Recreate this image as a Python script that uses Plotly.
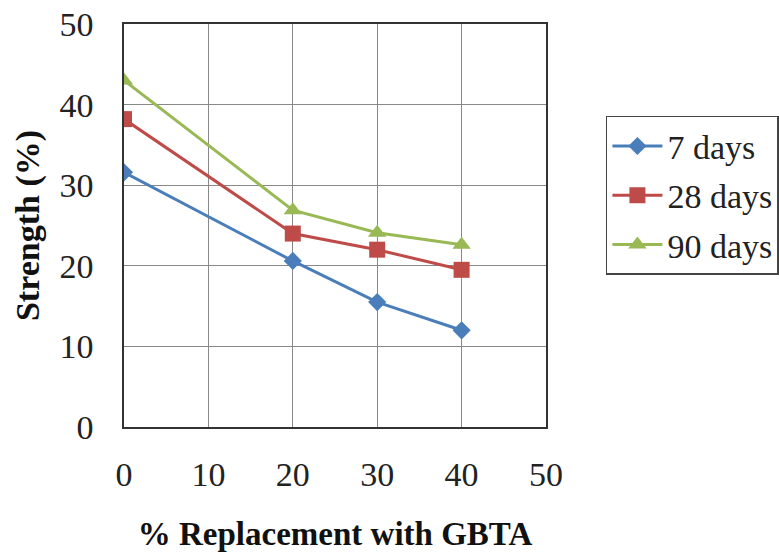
import plotly.graph_objects as go

replacement = [0, 20, 30, 40]
days7 = [31.6, 20.6, 15.5, 12.0]
days28 = [38.2, 24.0, 22.0, 19.5]
days90 = [43.0, 26.9, 24.1, 22.6]
series_names = ["7 days", "28 days", "90 days"]

fig = go.Figure()
styles = [
    ("#4a7ebb", "diamond", 14),
    ("#be4b48", "square", 16),
    ("#98b954", "triangle-up", 16),
]
for name, vals, (col, sym, sz) in zip(series_names, [days7, days28, days90], styles):
    fig.add_trace(go.Scatter(
        x=replacement, y=vals, name=name, mode="lines+markers",
        legendgroup=name,
        line=dict(color=col, width=3),
        marker=dict(color=col, symbol=sym, size=sz),
    ))

font = "Liberation Serif, Times New Roman, serif"
fig.update_layout(
    width=779, height=557,
    margin=dict(l=124, r=233, t=24, b=130, autoexpand=False),
    paper_bgcolor="white", plot_bgcolor="white",
    font=dict(family=font, size=34, color="#222"),
    showlegend=True,
    legend=dict(
        x=1.142, y=0.772, xanchor="left", yanchor="top",
        bordercolor="#444", borderwidth=1.5,
        font=dict(family=font, size=34, color="#222"),
        tracegroupgap=2, itemwidth=50,
    ),
    xaxis=dict(
        range=[0, 50], tickvals=[0, 10, 20, 30, 40, 50],
        showgrid=True, gridcolor="#888", gridwidth=1,
        showline=True, linecolor="#333", linewidth=1.5, mirror=True,
        zeroline=False, ticks="", ticklabelstandoff=16, automargin=False,
        tickfont=dict(family=font, size=34, color="#222"),
        title=dict(text="<b>% Replacement with GBTA</b>", font=dict(family=font, size=33, color="#111"), standoff=30),
    ),
    yaxis=dict(
        range=[0, 50], tickvals=[0, 10, 20, 30, 40, 50],
        showgrid=True, gridcolor="#888", gridwidth=1,
        showline=True, linecolor="#333", linewidth=1.5, mirror=True,
        zeroline=False, ticks="", ticklabelstandoff=22, automargin=False,
        tickfont=dict(family=font, size=34, color="#222"),
        title=dict(text="<b>Strength (%)</b>", font=dict(family=font, size=34, color="#111"), standoff=10),
    ),
)

fig.write_html("out.html")
